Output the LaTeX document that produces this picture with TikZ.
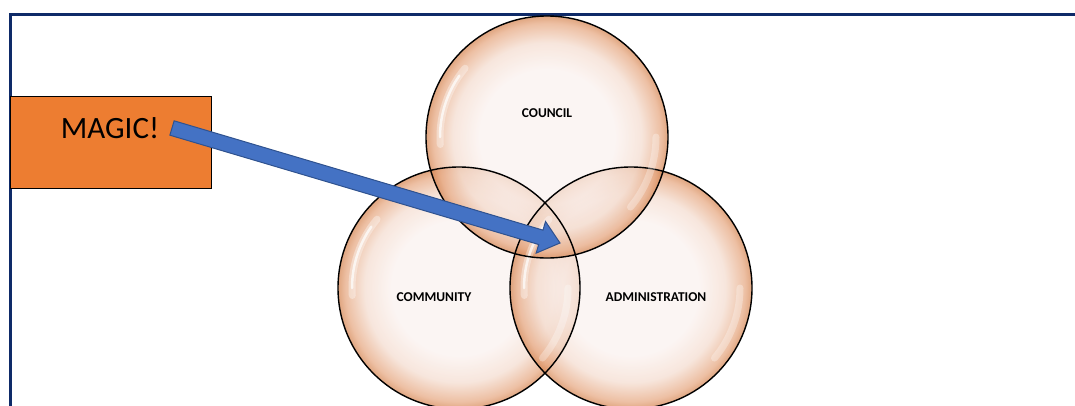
\documentclass[tikz,border=0pt]{standalone}
\usepackage{fontspec}
\setmainfont{Carlito}
\usetikzlibrary{calc}
\definecolor{framec}{HTML}{0E2A68}
\definecolor{boxc}{HTML}{ED7D31}
\definecolor{arrowc}{HTML}{4472C4}
\definecolor{arrowb}{HTML}{2F528F}
\definecolor{bubin}{HTML}{FAF1EE}
\definecolor{bubmid}{HTML}{F4DCCF}
\definecolor{bubout}{HTML}{E6A780}
\definecolor{bubrim}{HTML}{D4834F}
\pgfdeclareradialshading{bubble}{\pgfpoint{0bp}{0bp}}{color(0bp)=(bubin); color(14bp)=(bubin); color(19.5bp)=(bubmid); color(23.5bp)=(bubout); color(25bp)=(bubrim); color(50bp)=(bubrim)}
\tikzset{
  bubblenode/.style={circle, minimum size=242pt, inner sep=0pt, shade, shading=bubble, fill opacity=0.72},
  rim/.style={draw=black, line width=1.4pt},
  lbl/.style={font=\fontsize{13.5}{15}\selectfont\bfseries, text=black, inner sep=0pt},
  shine/.style={white, line width=7pt, line cap=round, opacity=0.35},
  shinecore/.style={white, line width=2.5pt, line cap=round, opacity=0.7},
}
\begin{document}
\begin{tikzpicture}[x=1pt,y=-1pt]
\useasboundingbox (0,0) rectangle (1075,405);
% frame
\draw[framec, line width=3pt] (10,412) -- (10,14) -- (1080,14);
% box
\node[draw=black, line width=0.8pt, fill=boxc, minimum width=201pt, minimum height=92pt, inner sep=0pt, anchor=north west] (box) at (10,96) {};
\node[font=\fontsize{31}{36}\selectfont, inner sep=0pt] (magic) at (110,128) {MAGIC!};
% circles
\node[bubblenode] (community) at (459,288) {};
\node[bubblenode] (admin) at (631,288) {};
\node[bubblenode] (council) at (547,137) {};
% shines and outlines
\foreach \c in {community, admin, council}{
  \draw[shine] ($(\c.center)+(176:107)$) arc[start angle=176, end angle=220, radius=107];
  \draw[shinecore] ($(\c.center)+(180:107)$) arc[start angle=180, end angle=215, radius=107];
  \draw[shine, opacity=0.3] ($(\c.center)+(0:109)$) arc[start angle=0, end angle=40, radius=109];
  \draw[rim] (\c.center) circle[radius=121];
}
% labels
\node[lbl] (lcouncil) at (547,113) {COUNCIL};
\node[lbl] (lcommunity) at (434,297) {COMMUNITY};
\node[lbl] (ladmin) at (656,297) {ADMINISTRATION};
% arrow
\coordinate (tail) at (172,128);
\coordinate (tip) at (560,243);
\coordinate (hb) at ($(tip)!20pt!(tail)$);
\draw[fill=arrowc, draw=arrowb, line width=1pt, line join=miter]
  ($(tail)!7.5pt!90:(tip)$) -- ($(hb)!7.5pt!-90:(tail)$) -- ($(hb)!16.5pt!-90:(tail)$) -- (tip)
  -- ($(hb)!16.5pt!90:(tail)$) -- ($(hb)!7.5pt!90:(tail)$) -- ($(tail)!7.5pt!-90:(tip)$) -- cycle;
\end{tikzpicture}
\end{document}
